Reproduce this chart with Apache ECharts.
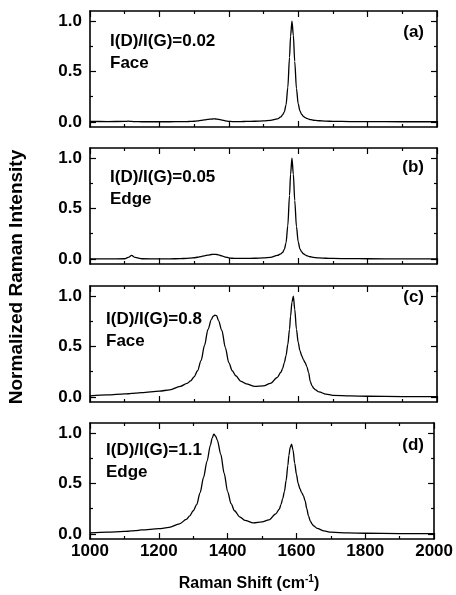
<!DOCTYPE html>
<html>
<head>
<meta charset="utf-8">
<script src="https://cdn.jsdelivr.net/npm/echarts@6/dist/echarts.min.js"></script>
<style>
  html, body { margin: 0; padding: 0; background: #fff; }
  #chart { width: 456px; height: 595px; }
</style>
</head>
<body>
<div id="chart"></div>
<script>
// Raman shift grid (cm-1), shared by the four spectra
const shift = [
  1000, 1050, 1100, 1110, 1120, 1130, 1150, 1200, 1230, 1260,
  1280, 1290, 1300, 1310, 1320, 1330, 1340, 1350, 1355, 1360,
  1365, 1370, 1380, 1390, 1400, 1410, 1420, 1435, 1450, 1475,
  1500, 1520, 1540, 1550, 1555, 1560, 1565, 1570, 1575, 1578,
  1582, 1586, 1590, 1595, 1600, 1605, 1610, 1615, 1620, 1625,
  1630, 1635, 1640, 1645, 1650, 1660, 1680, 1700, 1750, 1800,
  1900, 2000
];

// (a) face, I(D)/I(G)=0.02
const faceLow = [
  0.005, 0.004, 0.005, 0.008, 0.005, 0.003, 0.002, 0.002, 0.002, 0.003,
  0.004, 0.005, 0.007, 0.010, 0.015, 0.020, 0.025, 0.029, 0.030, 0.030,
  0.029, 0.026, 0.019, 0.011, 0.006, 0.004, 0.004, 0.004, 0.005, 0.007,
  0.010, 0.016, 0.030, 0.050, 0.070, 0.100, 0.170, 0.340, 0.640, 0.850,
  1.000, 0.860, 0.600, 0.330, 0.180, 0.110, 0.075, 0.055, 0.043, 0.035,
  0.029, 0.024, 0.020, 0.017, 0.015, 0.012, 0.008, 0.006, 0.004, 0.003,
  0.002, 0.002
];

// (b) edge, I(D)/I(G)=0.05
const edgeLow = [
  0.000, 0.000, 0.002, 0.015, 0.035, 0.015, 0.002, 0.000, 0.001, 0.003,
  0.006, 0.009, 0.012, 0.017, 0.024, 0.031, 0.038, 0.044, 0.046, 0.046,
  0.044, 0.040, 0.030, 0.019, 0.011, 0.007, 0.005, 0.005, 0.005, 0.007,
  0.010, 0.016, 0.035, 0.050, 0.065, 0.095, 0.160, 0.330, 0.630, 0.840,
  1.000, 0.840, 0.580, 0.320, 0.170, 0.100, 0.070, 0.052, 0.040, 0.032,
  0.026, 0.022, 0.018, 0.015, 0.013, 0.010, 0.007, 0.005, 0.003, 0.002,
  0.001, 0.001
];

// (c) face, I(D)/I(G)=0.8
const faceHigh = [
  0.010, 0.020, 0.030, 0.032, 0.035, 0.038, 0.043, 0.058, 0.070, 0.105,
  0.135, 0.160, 0.200, 0.260, 0.360, 0.510, 0.670, 0.770, 0.800, 0.810,
  0.805, 0.760, 0.660, 0.490, 0.340, 0.260, 0.210, 0.155, 0.130, 0.105,
  0.110, 0.135, 0.195, 0.245, 0.280, 0.340, 0.410, 0.520, 0.670, 0.800,
  0.940, 1.000, 0.870, 0.670, 0.540, 0.460, 0.410, 0.370, 0.340, 0.300,
  0.240, 0.150, 0.110, 0.085, 0.070, 0.050, 0.028, 0.016, 0.010, 0.007,
  0.004, 0.003
];

// (d) edge, I(D)/I(G)=1.1
const edgeHigh = [
  0.010, 0.018, 0.025, 0.027, 0.030, 0.033, 0.040, 0.052, 0.065, 0.100,
  0.145, 0.180, 0.230, 0.290, 0.410, 0.560, 0.720, 0.880, 0.950, 0.990,
  0.970, 0.930, 0.790, 0.600, 0.420, 0.300, 0.230, 0.170, 0.135, 0.110,
  0.120, 0.140, 0.200, 0.245, 0.290, 0.350, 0.420, 0.530, 0.680, 0.780,
  0.860, 0.890, 0.830, 0.700, 0.590, 0.500, 0.450, 0.410, 0.380, 0.330,
  0.250, 0.180, 0.130, 0.100, 0.080, 0.055, 0.030, 0.018, 0.010, 0.007,
  0.004, 0.003
];

const spectra = [faceLow, edgeLow, faceHigh, edgeHigh];
const panelTags = ['(a)', '(b)', '(c)', '(d)'];
const ratioTexts = ['I(D)/I(G)=0.02', 'I(D)/I(G)=0.05', 'I(D)/I(G)=0.8', 'I(D)/I(G)=1.1'];
const siteTexts = ['Face', 'Edge', 'Face', 'Edge'];
const yMajorTicks = [0, 0.5, 1.0];
const yMinorTicks = [0.25, 0.75];

const FONT = '"Liberation Sans", Arial, sans-serif';
const panelTops = [11, 148, 286, 423];
const panelHeight = 116;
const textTops = [30, 166, 308, 439];
const tagTops = [24, 159, 289, 437];
const textLefts = [110, 110, 106, 106];

const chart = echarts.init(document.getElementById('chart'), null, { renderer: 'canvas' });

const grids = [];
const xAxes = [];
const yAxes = [];
const series = [];
const graphics = [];

const frameLine = { show: true, onZero: false, lineStyle: { color: '#000', width: 1.6 } };

panelTops.forEach((top, i) => {
  grids.push({ left: 90, right: 19, top: top, height: panelHeight });

  // bottom + top x axes (ticks mirrored inside the box)
  ['bottom', 'top'].forEach((pos) => {
    xAxes.push({
      type: 'value',
      gridIndex: i,
      position: pos,
      min: 1000,
      max: 2000,
      interval: 200,
      axisLine: frameLine,
      axisTick: { show: true, inside: true, length: 6, lineStyle: { color: '#000', width: 1.2 } },
      minorTick: { show: true, splitNumber: 2, length: 3, lineStyle: { color: '#000', width: 1.2 } },
      axisLabel: {
        show: pos === 'bottom' && i === 3,
        formatter: (v) => String(v),
        margin: 4,
        color: '#000',
        fontFamily: FONT,
        fontWeight: 'bold',
        fontSize: 17
      },
      splitLine: { show: false }
    });
  });

  // left + right y axes, each with a major and a minor tick axis
  ['left', 'right'].forEach((pos) => {
    yAxes.push({
      type: 'value',
      gridIndex: i,
      position: pos,
      min: -0.05,
      max: 1.1,
      axisLine: frameLine,
      axisTick: {
        show: true, inside: true, length: 6, customValues: yMajorTicks,
        lineStyle: { color: '#000', width: 1.2 }
      },
      axisLabel: {
        show: pos === 'left',
        customValues: yMajorTicks,
        formatter: (v) => v.toFixed(1),
        margin: 8,
        color: '#000',
        fontFamily: FONT,
        fontWeight: 'bold',
        fontSize: 17
      },
      splitLine: { show: false }
    });
    yAxes.push({
      type: 'value',
      gridIndex: i,
      position: pos,
      min: -0.05,
      max: 1.1,
      axisLine: { show: false, onZero: false },
      axisTick: {
        show: true, inside: true, length: 3, customValues: yMinorTicks,
        lineStyle: { color: '#000', width: 1.2 }
      },
      axisLabel: { show: false },
      splitLine: { show: false }
    });
  });

  series.push({
    type: 'line',
    xAxisIndex: i * 2,
    yAxisIndex: i * 4,
    data: shift.map((x, j) => [x, spectra[i][j]]),
    showSymbol: false,
    smooth: 0.3,
    smoothMonotone: 'x',
    lineStyle: { color: '#000', width: 1.3 },
    silent: true,
    animation: false
  });

  graphics.push({
    type: 'text',
    left: textLefts[i],
    top: textTops[i],
    style: {
      text: ratioTexts[i] + '\n' + siteTexts[i],
      font: 'bold 17px ' + FONT,
      lineHeight: 22,
      fill: '#000'
    }
  });
  graphics.push({
    type: 'text',
    right: 32,
    top: tagTops[i],
    style: { text: panelTags[i], font: 'bold 17px ' + FONT, fill: '#000' }
  });
});

// axis titles
graphics.push({
  type: 'text',
  x: 17,
  y: 277,
  rotation: Math.PI / 2,
  style: {
    text: 'Normalized Raman Intensity',
    font: 'bold 19px ' + FONT,
    textAlign: 'center',
    textVerticalAlign: 'middle',
    fill: '#000'
  }
});
graphics.push({
  type: 'text',
  x: 249,
  y: 574,
  style: {
    text: '{a|Raman Shift (cm}{s|-1}{a|)}',
    textAlign: 'center',
    rich: {
      a: { fontFamily: FONT, fontWeight: 'bold', fontSize: 16, lineHeight: 20, color: '#000' },
      s: { fontFamily: FONT, fontWeight: 'bold', fontSize: 10, lineHeight: 20, verticalAlign: 'top', color: '#000' }
    }
  }
});

chart.setOption({
  animation: false,
  backgroundColor: '#fff',
  grid: grids,
  xAxis: xAxes,
  yAxis: yAxes,
  series: series,
  graphic: graphics
});
</script>
</body>
</html>
